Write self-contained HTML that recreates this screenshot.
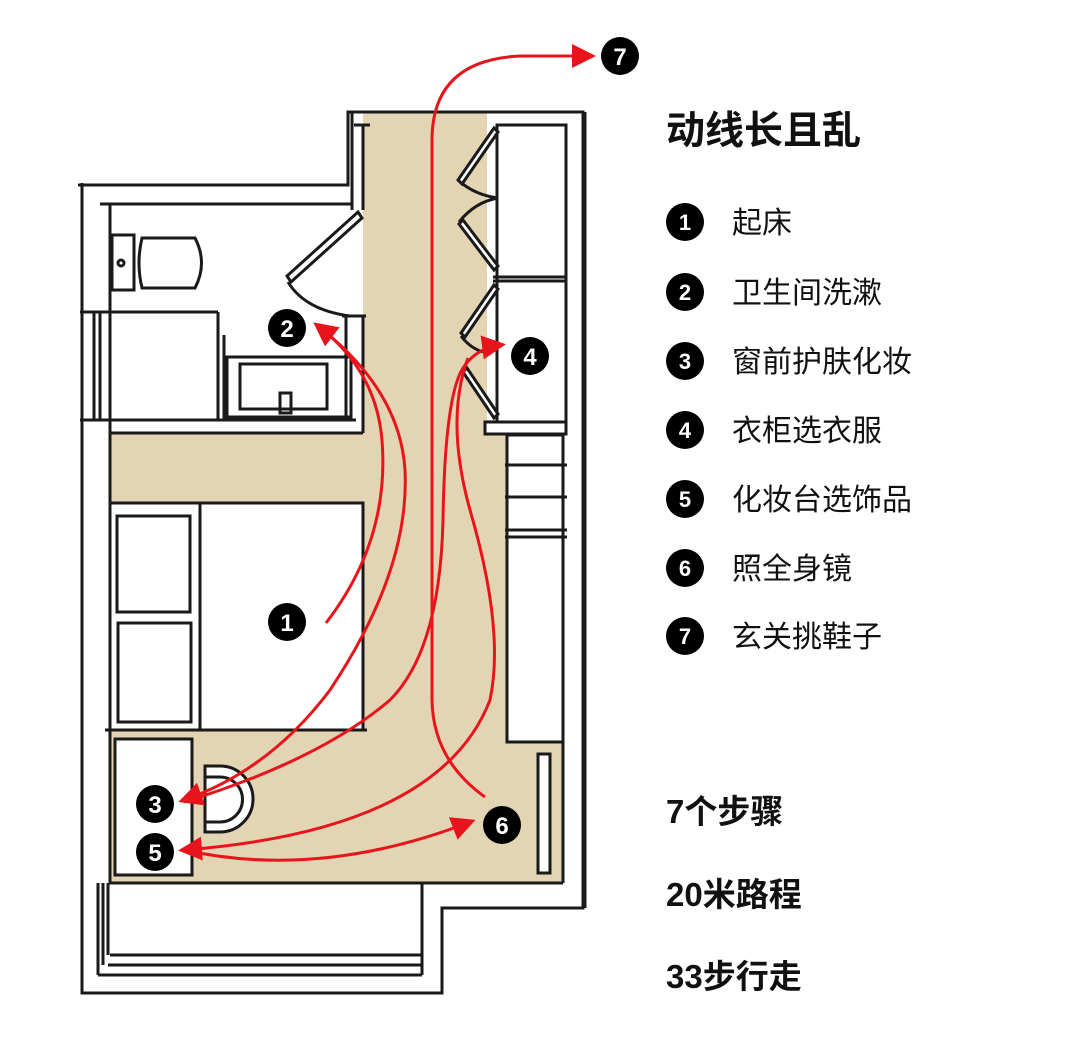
<!DOCTYPE html>
<html><head><meta charset="utf-8"><style>
html,body{margin:0;padding:0;background:#fff;}
svg{display:block}
.t{font-family:"Liberation Sans","Noto Sans CJK SC",sans-serif;fill:#111}
</style></head><body>
<svg width="1080" height="1053" viewBox="0 0 1080 1053" xmlns="http://www.w3.org/2000/svg">
<defs>
<marker id="ah" markerWidth="8" markerHeight="8" refX="6" refY="4" orient="auto" markerUnits="strokeWidth">
<path d="M0,0 L8,4 L0,8 z" fill="#e8141c"/>
</marker>
</defs>
<g fill="#e3d4b3">
<rect x="363" y="113" width="124" height="620"/>
<rect x="110" y="433" width="260" height="70"/>
<rect x="363" y="420" width="145" height="320"/>
<rect x="110" y="730" width="453" height="153"/>
</g>
<g fill="#fff" stroke="#1a1a1a" stroke-width="3">
<rect x="200" y="503" width="163" height="227"/>
<rect x="117" y="516" width="73" height="96"/>
<rect x="118" y="623" width="73" height="99"/>
<rect x="115" y="739" width="77" height="136"/>
<rect x="538" y="754" width="12" height="119"/>
<rect x="507" y="435" width="56" height="307" />
</g>
<g stroke="#1a1a1a" stroke-width="3" fill="none">
<line x1="505" y1="465" x2="567" y2="465"/>
<line x1="505" y1="497" x2="567" y2="497"/>
<line x1="505" y1="530" x2="567" y2="530"/>
<line x1="505" y1="537" x2="567" y2="537"/>
<path d="M205,766 L220,766 A33,33 0 0 1 220,832 L205,832 Z" fill="#fff"/>
<path d="M206,777 L220,777 A22,22 0 0 1 220,822 L206,822" />
<path d="M82,183 V993 H442 V908 H583 V112 H348 V185 H82"/>
<path d="M110,205 V883 H563"/>
<line x1="78" y1="185" x2="348" y2="185"/>
<line x1="100" y1="204" x2="352" y2="204"/>
<line x1="352" y1="112" x2="352" y2="210"/>
<line x1="363" y1="125" x2="363" y2="210"/>
<line x1="363" y1="316" x2="363" y2="433"/>
<line x1="354" y1="125" x2="370" y2="125"/>
<line x1="110" y1="433" x2="363" y2="433"/>
<line x1="110" y1="503" x2="363" y2="503"/>
<line x1="105" y1="730" x2="367" y2="730"/>
<line x1="563" y1="740" x2="563" y2="883"/>
<rect x="112" y="235" width="22" height="55" fill="#fff"/>
<path d="M142,238 H195 Q208,263 195,288 H142 Q136,263 142,238 Z"/>
<circle cx="121" cy="263" r="3"/>
<line x1="80" y1="312" x2="218" y2="312"/>
<line x1="218" y1="312" x2="218" y2="420"/>
<line x1="224" y1="335" x2="224" y2="420"/>
<rect x="227" y="357" width="124" height="60" fill="#fff"/>
<rect x="240" y="364" width="87" height="45"/>
<rect x="280" y="393" width="11" height="20"/>
<line x1="80" y1="420" x2="356" y2="420"/>
<line x1="346" y1="316" x2="346" y2="420"/>
<line x1="94" y1="312" x2="94" y2="420"/>
<line x1="100" y1="312" x2="100" y2="420"/>
<path d="M287,276 L358,212 L362,218 L291,282 Z" fill="#fff"/>
<path d="M288,282 Q305,310 350,316"/>
<line x1="342" y1="316" x2="366" y2="316"/>
<rect x="497" y="125" width="69" height="297" fill="#fff"/>
<line x1="493" y1="277" x2="566" y2="277"/>
<line x1="493" y1="281" x2="566" y2="281"/>
<path d="M458,180 L494,128 L498,132 L462,184 Z" fill="#fff"/>
<path d="M459,181 Q475,195 498,198"/>
<path d="M498,198 Q475,202 459,222"/>
<path d="M459,224 L494,270 L498,266 L463,220 Z" fill="#fff"/>
<path d="M461,333 L494,285 L498,289 L465,337 Z" fill="#fff"/>
<path d="M461,336 Q470,348 483,352"/>
<path d="M463,372 L494,418 L498,414 L467,368 Z" fill="#fff"/>
<path d="M485,422 H566 V434 H485 Z" fill="#fff"/>
<line x1="585" y1="112" x2="585" y2="908"/>
<line x1="98" y1="883" x2="98" y2="975"/>
<line x1="103" y1="883" x2="103" y2="965"/>
<line x1="108" y1="883" x2="108" y2="955"/>
<line x1="108" y1="965" x2="422" y2="965"/>
<line x1="98" y1="975" x2="422" y2="975"/>
<line x1="110" y1="955" x2="422" y2="955"/>
<line x1="422" y1="883" x2="422" y2="975"/>
</g>
<g stroke="#e8141c" stroke-width="3" fill="none">
<path d="M326,623 Q390,540 382,440 Q376,370 318,326" marker-end="url(#ah)"/>
<path d="M318,326 Q400,390 405,470 Q410,570 330,690 Q270,770 184,800" marker-end="url(#ah)"/>
<path d="M184,802 Q320,760 390,700 Q440,650 443,520 Q445,390 465,365 Q478,348 500,345" marker-end="url(#ah)"/>
<path d="M468,358 Q445,420 470,510 Q505,630 490,700 Q440,830 184,850" marker-end="url(#ah)"/>
<path d="M184,850 Q320,880 470,822" marker-end="url(#ah)"/>
<path d="M485,797 Q433,760 432,700 V140 Q432,60 520,56 L590,56" marker-end="url(#ah)"/>
</g>
<g class="t" font-weight="bold" font-size="24" text-anchor="middle">
<g><circle cx="287" cy="622" r="19" fill="#000"/><text x="287" y="631" fill="#fff">1</text></g>
<g><circle cx="287" cy="328" r="19" fill="#000"/><text x="287" y="337" fill="#fff">2</text></g>
<g><circle cx="155" cy="804" r="19" fill="#000"/><text x="155" y="813" fill="#fff">3</text></g>
<g><circle cx="530" cy="356" r="19" fill="#000"/><text x="530" y="365" fill="#fff">4</text></g>
<g><circle cx="155" cy="852" r="19" fill="#000"/><text x="155" y="861" fill="#fff">5</text></g>
<g><circle cx="502" cy="825" r="19" fill="#000"/><text x="502" y="834" fill="#fff">6</text></g>
<g><circle cx="620" cy="56" r="19" fill="#000"/><text x="620" y="65" fill="#fff">7</text></g>
</g>
<text class="t" x="666" y="144" font-size="39" font-weight="bold">动线长且乱</text>
<g class="t" font-weight="bold" font-size="22" text-anchor="middle">
<circle cx="685" cy="222" r="19" fill="#000"/><text x="685" y="230" fill="#fff">1</text>
<circle cx="685" cy="292" r="19" fill="#000"/><text x="685" y="300" fill="#fff">2</text>
<circle cx="685" cy="361" r="19" fill="#000"/><text x="685" y="369" fill="#fff">3</text>
<circle cx="685" cy="430" r="19" fill="#000"/><text x="685" y="438" fill="#fff">4</text>
<circle cx="685" cy="499" r="19" fill="#000"/><text x="685" y="507" fill="#fff">5</text>
<circle cx="685" cy="568" r="19" fill="#000"/><text x="685" y="576" fill="#fff">6</text>
<circle cx="685" cy="636" r="19" fill="#000"/><text x="685" y="644" fill="#fff">7</text>
</g>
<g class="t" font-size="30">
<text x="732" y="233">起床</text>
<text x="732" y="303">卫生间洗漱</text>
<text x="732" y="372">窗前护肤化妆</text>
<text x="732" y="441">衣柜选衣服</text>
<text x="732" y="510">化妆台选饰品</text>
<text x="732" y="579">照全身镜</text>
<text x="732" y="647">玄关挑鞋子</text>
</g>
<g class="t" font-size="33" font-weight="bold">
<text x="666" y="823">7个步骤</text>
<text x="666" y="906">20米路程</text>
<text x="666" y="988">33步行走</text>
</g>
</svg>
</body></html>
